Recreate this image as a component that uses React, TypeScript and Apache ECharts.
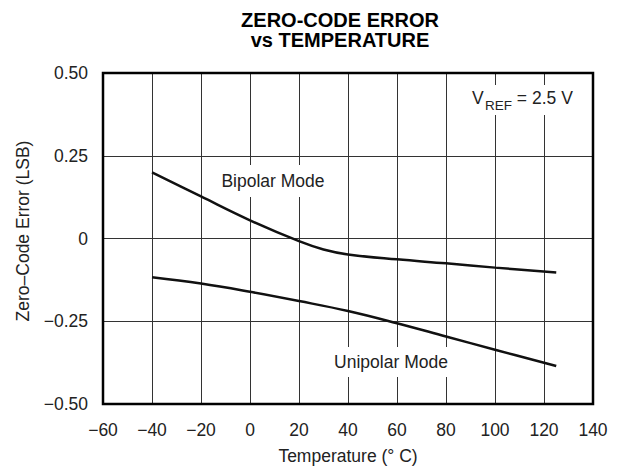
import React, { useEffect, useRef } from "react";
import * as echarts from "echarts";

const bipolarTemps = [-40, -20, 0, 20, 30, 40, 60, 80, 100, 125];
const bipolarValues = [0.2, 0.127, 0.055, -0.008, -0.033, -0.048, -0.063, -0.075, -0.088, -0.103];
const unipolarTemps = [-40, -20, 0, 20, 40, 60, 80, 100, 125];
const unipolarValues = [-0.117, -0.136, -0.161, -0.189, -0.219, -0.256, -0.296, -0.336, -0.385];

const xTicks = { min: -60, max: 140, interval: 20 };
const yTicks = { min: -0.5, max: 0.5, interval: 0.25 };

const FONT = "'Liberation Sans', Arial, Helvetica, sans-serif";
const FS = 17.5;

const fmtX = (v: number) => (v < 0 ? "\u2212" + Math.abs(v) : String(v));
const fmtY = (v: number) => {
  if (Math.abs(v) < 1e-9) return "0";
  const s = Math.abs(v).toFixed(2);
  return v < 0 ? "\u2212" + s : s;
};

export default function App() {
  const ref = useRef<HTMLDivElement>(null);
  useEffect(() => {
    if (!ref.current) return;
    const chart = echarts.init(ref.current, undefined, { renderer: "svg" });
    const pairs = (xs: number[], ys: number[]) => xs.map((x, i) => [x, ys[i]]);
    const txt = (x: number, y: number, text: string, size: number, align = "left") => ({
      type: "text",
      x,
      y,
      z: 101,
      style: { text, fontSize: size, fill: "#222", align, verticalAlign: "middle", fontFamily: FONT },
    });
    chart.setOption({
      animation: false,
      backgroundColor: "#fff",
      textStyle: { fontFamily: FONT },
      grid: {
        left: 103,
        top: 73,
        width: 490,
        height: 332,
        show: true,
        borderColor: "#000",
        borderWidth: 2.5,
        backgroundColor: "transparent",
        z: 3,
      },
      xAxis: {
        type: "value",
        min: xTicks.min,
        max: xTicks.max,
        interval: xTicks.interval,
        axisLine: { show: false },
        axisTick: { show: false },
        splitLine: { show: true, lineStyle: { color: "#333", width: 1 } },
        axisLabel: { formatter: fmtX, fontSize: FS, color: "#222", margin: 17, fontFamily: FONT },
        name: "Temperature (\u00B0 C)",
        nameLocation: "middle",
        nameGap: 43,
        nameTextStyle: { fontSize: FS, color: "#222", fontFamily: FONT },
      },
      yAxis: {
        type: "value",
        min: yTicks.min,
        max: yTicks.max,
        interval: yTicks.interval,
        axisLine: { show: false },
        axisTick: { show: false },
        splitLine: { show: true, lineStyle: { color: "#333", width: 1 } },
        axisLabel: { formatter: fmtY, fontSize: FS, color: "#222", margin: 15, fontFamily: FONT },
        name: "Zero\u2013Code Error (LSB)",
        nameLocation: "middle",
        nameGap: 71,
        nameTextStyle: { fontSize: FS, color: "#222", fontFamily: FONT, padding: [0, 0, 0, 15] },
      },
      series: [
        {
          name: "Bipolar Mode",
          type: "line",
          data: pairs(bipolarTemps, bipolarValues),
          smooth: 0.4,
          showSymbol: false,
          lineStyle: { color: "#111", width: 2.5 },
          z: 5,
        },
        {
          name: "Unipolar Mode",
          type: "line",
          data: pairs(unipolarTemps, unipolarValues),
          smooth: 0.4,
          showSymbol: false,
          lineStyle: { color: "#111", width: 2.5 },
          z: 5,
        },
      ],
      graphic: [
        {
          type: "text",
          x: 340,
          y: 10,
          z: 100,
          style: {
            text: "ZERO-CODE ERROR\nvs TEMPERATURE",
            fontSize: 20,
            fontWeight: "bold",
            lineHeight: 20,
            align: "center",
            verticalAlign: "top",
            fill: "#000",
            fontFamily: FONT,
          },
        },
        {
          type: "text",
          x: 273,
          y: 181,
          z: 100,
          style: {
            text: "Bipolar Mode",
            fontSize: FS,
            fill: "#222",
            align: "center",
            verticalAlign: "middle",
            backgroundColor: "#fff",
            padding: [7, 4, 7, 4],
            fontFamily: FONT,
          },
        },
        {
          type: "text",
          x: 391,
          y: 362,
          z: 100,
          style: {
            text: "Unipolar Mode",
            fontSize: FS,
            fill: "#222",
            align: "center",
            verticalAlign: "middle",
            backgroundColor: "#fff",
            padding: [6, 4, 6, 4],
            fontFamily: FONT,
          },
        },
        {
          type: "rect",
          z: 100,
          shape: { x: 468, y: 85, width: 110, height: 30 },
          style: { fill: "#fff" },
        },
        txt(472, 97.5, "V", FS),
        txt(485, 105, "REF", 13.5),
        txt(512, 97.5, " = 2.5 V", FS),
      ],
    });
    return () => chart.dispose();
  }, []);
  return (
    <div
      ref={ref}
      style={{ position: "fixed", left: 0, top: 0, width: 621, height: 470 }}
    />
  );
}
